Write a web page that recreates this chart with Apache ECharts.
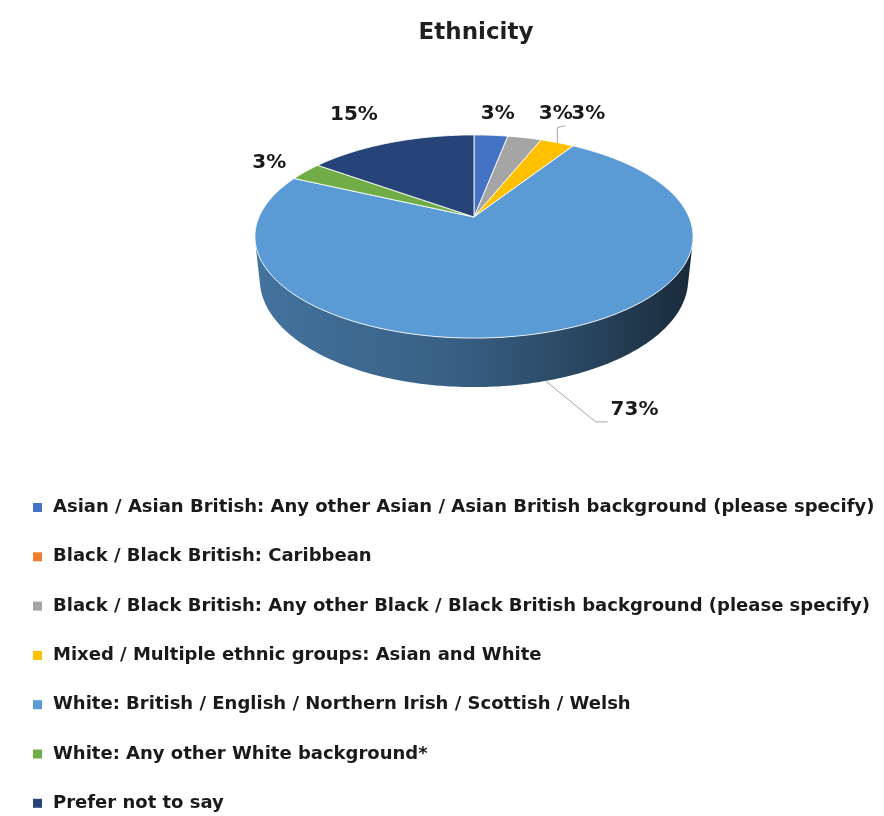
<!DOCTYPE html>
<html><head><meta charset="utf-8">
<script src="https://cdn.jsdelivr.net/npm/echarts@6/dist/echarts.min.js"></script>
<style>html,body{margin:0;padding:0;background:#fff}#c{width:884px;height:816px}</style>
</head><body><div id="c"></div>
<script>
// ---- data ----
const categories = [
  'Asian / Asian British: Any other Asian / Asian British background (please specify)',
  'Black / Black British: Caribbean',
  'Black / Black British: Any other Black / Black British background (please specify)',
  'Mixed / Multiple ethnic groups: Asian and White',
  'White: British / English / Northern Irish / Scottish / Welsh',
  'White: Any other White background*',
  'Prefer not to say'
];
const values = [3, 0, 3, 3, 73, 3, 15];
const title = 'Ethnicity';

// ---- styles / layout ----
const colors = ['#4472C4', '#ED7D31', '#A5A5A5', '#FFC000', '#5B9BD5', '#70AD47', '#264478'];
// label layout: anchor radius r, level (0 top, 1 bottom rim), nudge, optional leader
const labelLayout = [
  {r: 1.35, lvl: 0, dx: 2, dy: 1},
  {r: 1.35, lvl: 0, dx: 0, dy: 0},
  {r: 1.35, lvl: 0, dx: 17, dy: -2},
  {r: 1.0, lvl: 0, leader: [[0, -15], [8, -2]], tx: 6, ty: -12},
  {r: 1.0, lvl: 1, leader: [[50, 41], [12, 0]], tx: 3, ty: -12},
  {r: 1.35, lvl: 0, dx: 16, dy: 5},
  {r: 1.35, lvl: 0, dx: -13, dy: -7}
];
const FONT = 'DejaVu Sans';

// perspective camera parameters (unit radius pie)
const R = 4.64, SINA = 0.455, COSA = 0.891, H = 0.2265;
function proj(X, Y, Z) {
  const d = R - Y * SINA - Z * COSA;
  return [R * X / d, R * (Z * SINA - Y * COSA) / d];
}
function shade(hex, f) {
  const n = parseInt(hex.slice(1), 16);
  const r = (n >> 16) & 255, g = (n >> 8) & 255, b = n & 255;
  return 'rgb(' + Math.round(r * f) + ',' + Math.round(g * f) + ',' + Math.round(b * f) + ')';
}

const total = values.reduce((a, b) => a + b, 0);
const starts = [];
values.reduce((acc, v, i) => { starts[i] = acc; return acc + v; }, 0);

const TWO_PI = Math.PI * 2;
const F0 = Math.acos(-1 / (R * COSA)), F1 = TWO_PI - F0;

function makeRender(i) {
  return function (params, api) {
    const s = api.value(2), v = api.value(3);
    const a0 = s / total * TWO_PI, a1 = (s + v) / total * TWO_PI;
    const children = [];
    if (a1 - a0 <= 0) return {type: 'group', children};
    const pt = (phi, Y, r) => api.coord(proj((r || 1) * Math.sin(phi), Y, -(r || 1) * Math.cos(phi)));
    const step = Math.PI / 180;
    // wall (front facing part)
    const w0 = Math.max(a0, F0), w1 = Math.min(a1, F1);
    if (w1 > w0) {
      const top = [], bot = [];
      const n = Math.max(2, Math.ceil((w1 - w0) / step));
      for (let k = 0; k <= n; k++) {
        const phi = w0 + (w1 - w0) * k / n;
        top.push(pt(phi, 0));
        bot.push(pt(phi, -H));
      }
      const c = colors[i];
      children.push({
        type: 'polygon', z2: 1,
        shape: {points: top.concat(bot.reverse())},
        style: {
          fill: {type: 'linear', x: 0, y: 0, x2: 1, y2: 0, colorStops: [
            {offset: 0, color: shade(c, 0.74)},
            {offset: 0.45, color: shade(c, 0.62)},
            {offset: 0.75, color: shade(c, 0.45)},
            {offset: 1, color: shade(c, 0.27)}
          ]}
        }
      });
    }
    // top face
    const pts = [api.coord(proj(0, 0, 0))];
    const n2 = Math.max(2, Math.ceil((a1 - a0) / step));
    for (let k = 0; k <= n2; k++) pts.push(pt(a0 + (a1 - a0) * k / n2, 0));
    children.push({
      type: 'polygon', z2: 10,
      shape: {points: pts},
      style: {fill: colors[i], stroke: 'rgba(255,255,255,0.85)', lineWidth: 1, lineJoin: 'round'}
    });
    // label
    const L = labelLayout[i];
    const mid = (a0 + a1) / 2;
    const anc = pt(mid, L.lvl ? -H : 0, L.r);
    const txt = Math.round(v / total * 100) + '%';
    const tstyle = {text: txt, font: 'bold 20px "' + FONT + '"', fill: '#1a1a1a', verticalAlign: 'middle'};
    if (L.leader) {
      const p1 = [anc[0] + L.leader[0][0], anc[1] + L.leader[0][1]];
      const p2 = [p1[0] + L.leader[1][0], p1[1] + L.leader[1][1]];
      children.push({type: 'polyline', z2: 20, shape: {points: [anc, p1, p2]},
        style: {stroke: '#a6a6a6', lineWidth: 1, fill: null}});
      children.push({type: 'text', z2: 21, x: p2[0] + L.tx, y: p2[1] + L.ty,
        style: Object.assign({textAlign: 'left'}, tstyle)});
    } else {
      children.push({type: 'text', z2: 21, x: anc[0] + L.dx, y: anc[1] + L.dy,
        style: Object.assign({textAlign: 'center'}, tstyle)});
    }
    return {type: 'group', children};
  };
}

const chart = echarts.init(document.getElementById('c'), null, {renderer: 'canvas'});
chart.setOption({
  animation: false,
  backgroundColor: '#fff',
  graphic: [{type: 'text', x: 476, y: 33, style: {text: title, font: 'bold 23px "' + FONT + '"',
    fill: '#1f1f1f', textAlign: 'center', verticalAlign: 'middle'}}],
  grid: {left: 259, width: 430, top: 109.5, height: 322.5},
  xAxis: {type: 'value', min: -1, max: 1, show: false},
  yAxis: {type: 'value', min: -0.5, max: 1, inverse: true, show: false},
  legend: {
    orient: 'vertical', left: 33, top: 498.5, padding: 0,
    itemWidth: 9, itemHeight: 9, itemGap: 31.3, icon: 'rect',
    selectedMode: false,
    textStyle: {fontFamily: FONT, fontWeight: 'bold', fontSize: 18, color: '#1a1a1a', lineHeight: 18, padding: [0, 0, 0, 6]},
    data: categories
  },
  series: categories.map((name, i) => ({
    type: 'custom', name, coordinateSystem: 'cartesian2d', silent: true,
    itemStyle: {color: colors[i]},
    encode: {x: 0, y: 1},
    data: [[0, 0, starts[i], values[i]]],
    renderItem: makeRender(i)
  }))
});
</script>
</body></html>
